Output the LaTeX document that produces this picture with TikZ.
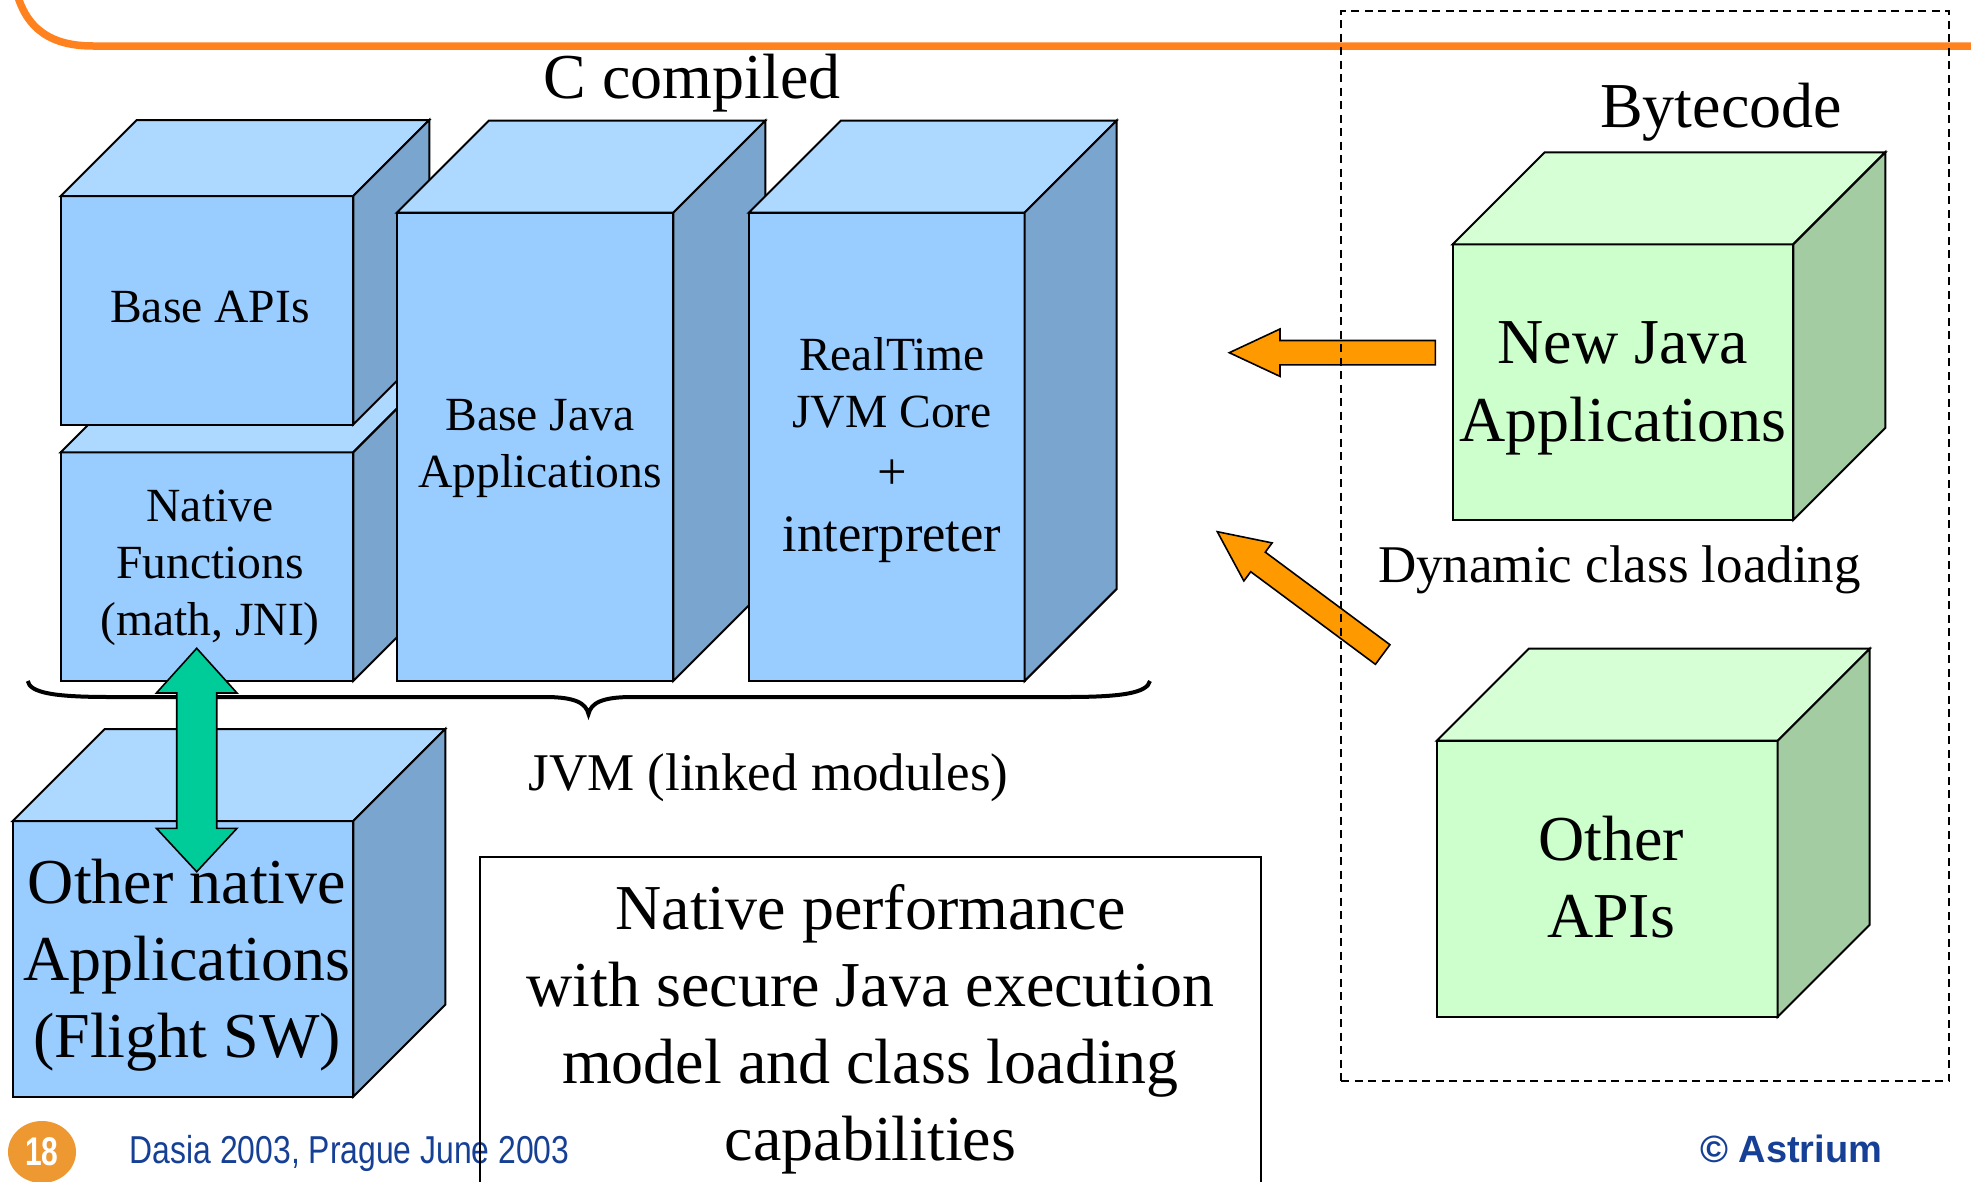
\documentclass[tikz,border=0pt]{standalone}
\usepackage{fontspec}
\usepackage{graphicx}
\usetikzlibrary{shapes.geometric}
\setmainfont{Liberation Serif}
\newfontfamily\footfont{Liberation Sans}

\definecolor{bfront}{RGB}{153,204,255}
\definecolor{btop}{RGB}{173,216,255}
\definecolor{bside}{RGB}{122,165,206}
\definecolor{gfront}{RGB}{204,255,204}
\definecolor{gtop}{RGB}{214,255,214}
\definecolor{gside}{RGB}{163,204,163}
\definecolor{arroworange}{RGB}{255,153,0}
\definecolor{arrowgreen}{RGB}{0,204,153}
\definecolor{ruleorange}{RGB}{255,130,30}
\definecolor{footblue}{RGB}{22,64,150}
\definecolor{badge}{RGB}{238,152,50}

\newcommand\fsz[2]{\fontsize{#1}{#2}\selectfont}

% cube: name, x, y (front top-left), width, height, depth, front, top, side colours
\newcommand\cubebox[9]{%
  \node[cubefront,fill=#7,minimum width=#4,minimum height=#5,anchor=north west] (#1) at (#2,#3) {};
  \draw[cubeface,fill=#8] (#1.north west) -- ++(#6,-#6) -- ++(#4,0) -- (#1.north east) -- cycle;
  \draw[cubeface,fill=#9] (#1.north east) -- ++(#6,-#6) -- ++(0,#5) -- (#1.south east) -- cycle;
}

\tikzset{
  cubefront/.style={rectangle,draw=black,line width=2,inner sep=0,outer sep=0},
  cubeface/.style={draw=black,line width=2},
  txtS/.style={align=center,inner sep=0,font=\fsz{47.6}{57}},
  txtM/.style={align=center,inner sep=0,font=\fsz{53}{64}},
  txtL/.style={align=center,inner sep=0,font=\fsz{64}{77}},
  blockarrow/.pic={
    \draw[line width=1.6,fill=arroworange,line join=miter]
      (0,0) -- (-50.7,23.7) -- (-50.7,12.2) -- (-206,12.2) -- (-206,-12.2)
      -- (-50.7,-12.2) -- (-50.7,-23.7) -- cycle;
  },
}

\begin{document}
\begin{tikzpicture}[x=1pt,y=-1pt]
\useasboundingbox (0,0) rectangle (1971,1181);
\clip (0,0) rectangle (1971,1181);
\fill[white] (0,0) rectangle (1971,1181);

% slide header rule
\draw[ruleorange,line width=7.5] (16,-10) .. controls (26,30) and (52,46) .. (93,46) -- (1985,46);

% natively compiled modules
\cubebox{native}{60.7}{452.3}{292.6}{228.7}{76}{bfront}{btop}{bside}
\cubebox{baseapi}{60.7}{196}{292.6}{228.5}{76}{bfront}{btop}{bside}
\cubebox{basejava}{396.8}{212.7}{276.5}{468.3}{92}{bfront}{btop}{bside}
\cubebox{realtime}{748.8}{212.7}{275.8}{468.3}{92}{bfront}{btop}{bside}
\cubebox{othernative}{12.7}{821}{340.6}{275.7}{92}{bfront}{btop}{bside}

\node[txtS] (baseapi-t) at (210,311.3) {Base APIs\strut};
\node[txtS] (native-t) at (210,567.5) {\strut Native\\Functions\\(math, JNI)\strut};
\node[txtS] (basejava-t) at (540,447.1) {\strut Base Java\\Applications\strut};
\node[align=center,inner sep=0,font=\fsz{47.6}{57.3}] (realtime-t) at (892,387.2) {\strut RealTime\\JVM Core\strut};
\node[align=center,inner sep=0,font=\fsz{52.5}{61.7}] (realtime-t2) at (892,508.5) {\strut +\\interpreter\strut};
\node[txtL] (othernative-t) at (187,964.9) {\strut Other native\\Applications\\(Flight SW)\strut};

% brace under the JVM modules
\draw[line width=4] (27.7,681) .. controls (30,693) and (55,697) .. (110,697) -- (545,697)
  .. controls (575,697) and (586,703) .. (588.5,714)
  .. controls (591,703) and (602,697) .. (632,697) -- (1067,697)
  .. controls (1122,697) and (1147,693) .. (1150,681);

% native interface link
\draw[line width=1.6,fill=arrowgreen] (196.7,648.3) -- (237,693) -- (216.7,693) -- (216.7,828.3)
  -- (237,828.3) -- (196.7,871.7) -- (156.4,828.3) -- (176.7,828.3) -- (176.7,693)
  -- (156.4,693) -- cycle;

% summary box
\node[rectangle,draw=black,line width=2,inner sep=0,outer sep=0,minimum width=781,
  minimum height=360,anchor=north west] (perfbox) at (480,857) {};
\node[txtL] (perf-t) at (870.5,1029.1) {\strut Native performance\\with secure Java execution\\model and class loading\\capabilities\strut};

% bytecode side
\cubebox{newjava}{1452.7}{244.3}{340.6}{275.7}{92}{gfront}{gtop}{gside}
\cubebox{otherapi}{1436.7}{740.7}{341}{276}{92}{gfront}{gtop}{gside}
\node[align=center,inner sep=0,font=\fsz{64}{78}] (newjava-t) at (1623,386.7) {\strut New Java\\Applications\strut};
\node[txtL] (otherapi-t) at (1611,883.1) {\strut Other\\APIs\strut};

\pic (loadarrow) [rotate=180] at (1229.3,352.7) {blockarrow};
\pic (apiarrow) [rotate=143.4] at (1217.3,531.7) {blockarrow};

\node[rectangle,draw=black,line width=2,dash pattern=on 8pt off 5.5pt,inner sep=0,outer sep=0,
  minimum width=608,minimum height=1070,anchor=north west] (bytecodezone) at (1341,11) {};

% headings
\node[txtL] (ccomp) at (692,82.6) {C compiled\strut};
\node[txtL] (bytecode) at (1721,112.3) {Bytecode\strut};
\node[txtM] (jvm) at (768.5,777.2) {JVM (linked modules)\strut};
\node[txtM] (dynload) at (1619.5,569.2) {Dynamic class loading\strut};

% footer
\node[ellipse,fill=badge,inner sep=0,minimum width=68,minimum height=62,text=white,
  font=\footfont\bfseries\fsz{40}{48}] (pagenum) at (42,1152) {\scalebox{0.75}[1]{18}};
\node[anchor=base west,inner sep=0,text=footblue,font=\footfont\fsz{38.9}{46}] (event) at (129.5,1163) {\scalebox{0.82}[1]{Dasia 2003, Prague June 2003}};
\node[anchor=base west,inner sep=0,text=footblue,font=\footfont\bfseries\fsz{38}{46}] (copyright) at (1700,1162) {© Astrium};
\draw[line width=2] (perfbox.north west) -- (perfbox.south west);
\end{tikzpicture}
\end{document}
